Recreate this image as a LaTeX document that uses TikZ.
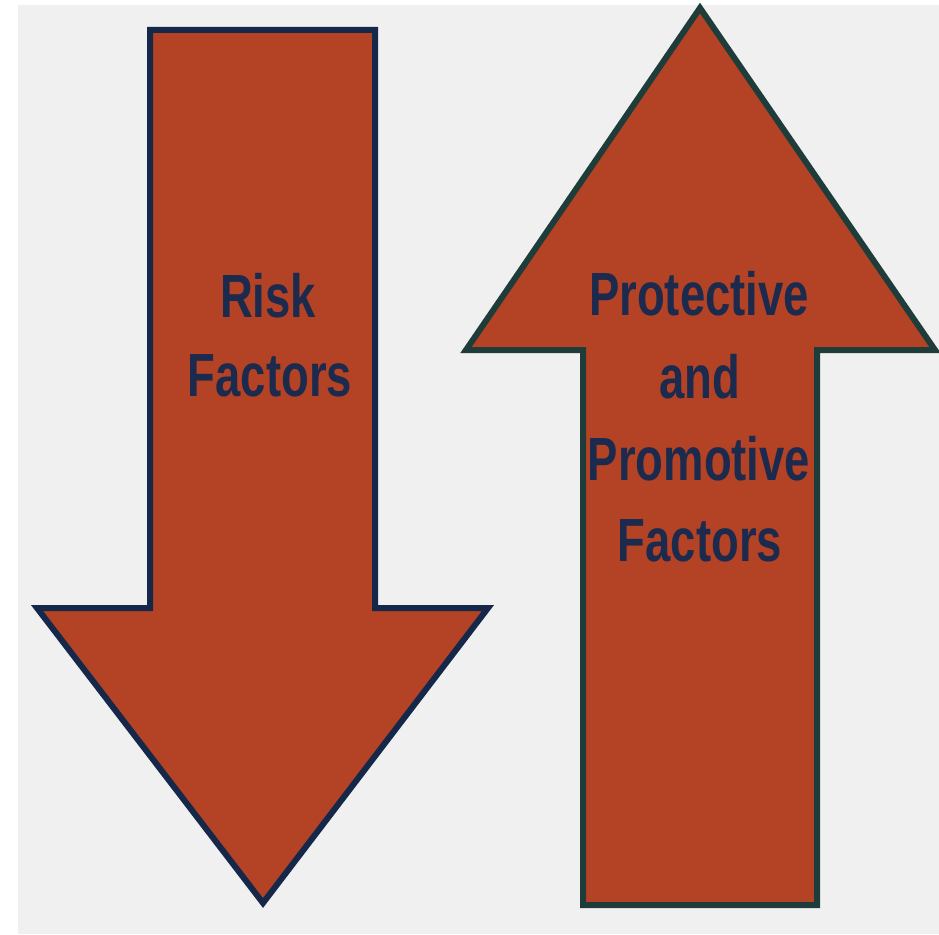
\documentclass[tikz,border=0pt]{standalone}
\usepackage{fontspec}
\newfontfamily\condfont{Liberation Sans}[FakeStretch=0.745]
\definecolor{bgc}{HTML}{F0F0F0}
\definecolor{rust}{HTML}{B44325}
\definecolor{navyline}{HTML}{15284A}
\definecolor{tealline}{HTML}{1E3C3A}
\definecolor{txt}{HTML}{1C2A4E}
\tikzset{
  arrowshape/.style={fill=rust, line width=6pt, line join=miter},
  lbl/.style={text=txt, font=\condfont\bfseries\fontsize{61}{61}\selectfont, anchor=base, inner sep=0pt}
}
\begin{document}
\begin{tikzpicture}[x=1pt,y=-1pt]
\useasboundingbox (0,0) rectangle (939,934);
\fill[white] (0,0) rectangle (939,934);
\fill[bgc] (18,5) rectangle (939,934);
% down arrow
\draw[arrowshape, draw=navyline] (150,30) -- (375,30) -- (375,608) -- (488,608) -- (263,903) -- (37,608) -- (150,608) -- cycle;
% up arrow
\draw[arrowshape, draw=tealline] (700,8) -- (935,350) -- (817,350) -- (817,905) -- (583,905) -- (583,350) -- (466,350) -- cycle;
\node[lbl] (r1) at (268,317) {Risk};
\node[lbl] (r2) at (270,396) {Factors};
\node[lbl] (p1) at (699,315) {Protective};
\node[lbl] (p2) at (700,398) {and};
\node[lbl] (p3) at (699,480) {Promotive};
\node[lbl] (p4) at (700,561) {Factors};
\end{tikzpicture}
\end{document}
